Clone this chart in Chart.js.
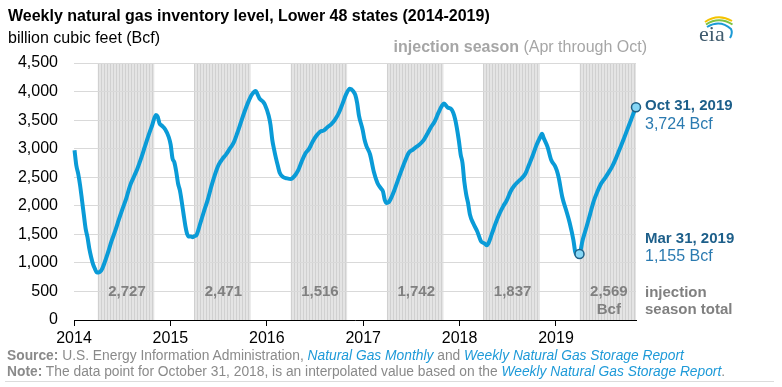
<!DOCTYPE html>
<html>
<head>
<meta charset="utf-8">
<script src="https://cdn.jsdelivr.net/npm/chart.js@4.4.0/dist/chart.umd.min.js"></script>
<style>
  body { margin: 0; background: #fff; font-family: 'Liberation Sans', Arial, sans-serif; }
  #wrap { position: relative; width: 782px; height: 387px; overflow: hidden; }
  #chart { position: absolute; left: 0; top: 0; }
  .t { position: absolute; white-space: nowrap; }
  .src { font-size: 13.8px; color: #8a8a8a; left: 7px; }
  .lk { color: #1e9ad8; }
</style>
</head>
<body>
<div id="wrap">
  <canvas id="chart" width="782" height="387"></canvas>
  <div class="t" style="left:8px; top:7px; font-size:16px; font-weight:bold; color:#000;">Weekly natural gas inventory level, Lower 48 states (2014-2019)</div>
  <div class="t" style="left:8px; top:29px; font-size:16px; color:#000;">billion cubic feet (Bcf)</div>
  <div class="t" style="right:135px; top:38px; font-size:16px; color:#a6a6a6;"><b>injection season</b> (Apr through Oct)</div>
  <svg class="t" style="left:696px; top:12px;" width="44" height="34">
    <path d="M9 10 Q22 1 36 9" stroke="#f4c300" stroke-width="2" fill="none"/>
    <path d="M10 12.5 Q23 4 36.5 12.5" stroke="#7cc243" stroke-width="2" fill="none"/>
    <path d="M11 15 Q24 7 35 17 Q37 21 34 26" stroke="#1b9ad6" stroke-width="2" fill="none"/>
    <text x="3" y="29" font-family="Liberation Serif, serif" font-size="22" fill="#3f5b6e">eia</text>
  </svg>
  <div class="t src" style="top:348px;"><b>Source:</b> U.S. Energy Information Administration, <i class="lk">Natural Gas Monthly</i> and <i class="lk">Weekly Natural Gas Storage Report</i></div>
  <div class="t src" style="top:364px;"><b>Note:</b> The data point for October 31, 2018, is an interpolated value based on the <i class="lk">Weekly Natural Gas Storage Report</i>.</div>
  <div style="position:absolute; left:5px; top:381px; width:769px; height:1px; background:#dcdcdc;"></div>
</div>

<script>
// weekly working gas in storage (Bcf)
const storageDates = [
  '2014-01-03','2014-01-10','2014-01-17','2014-01-24','2014-01-31','2014-02-07','2014-02-14','2014-02-21','2014-02-28','2014-03-07','2014-03-14','2014-03-21','2014-03-28','2014-04-04','2014-04-11','2014-04-18','2014-04-25','2014-05-09','2014-05-23','2014-06-06','2014-06-20','2014-07-04','2014-07-18','2014-08-01','2014-08-15','2014-08-29','2014-09-12','2014-09-26','2014-10-10','2014-10-24','2014-11-07','2014-11-14','2014-11-21','2014-11-28','2014-12-12','2014-12-26',
  '2015-01-02','2015-01-09','2015-01-16','2015-01-23','2015-01-30','2015-02-06','2015-02-13','2015-02-20','2015-02-27','2015-03-06','2015-03-13','2015-03-20','2015-03-27','2015-04-03','2015-04-10','2015-04-24','2015-05-08','2015-05-22','2015-06-05','2015-06-19','2015-07-03','2015-07-17','2015-07-31','2015-08-14','2015-08-28','2015-09-11','2015-09-25','2015-10-09','2015-10-23','2015-11-06','2015-11-20','2015-11-27','2015-12-04','2015-12-18','2015-12-25',
  '2016-01-08','2016-01-15','2016-01-22','2016-01-29','2016-02-05','2016-02-12','2016-02-19','2016-03-04','2016-03-18','2016-04-01','2016-04-15','2016-04-29','2016-05-13','2016-05-27','2016-06-10','2016-06-24','2016-07-08','2016-07-22','2016-08-05','2016-08-19','2016-09-02','2016-09-16','2016-09-30','2016-10-14','2016-10-28','2016-11-11','2016-11-25','2016-12-02','2016-12-09','2016-12-16','2016-12-30',
  '2017-01-06','2017-01-13','2017-01-27','2017-02-10','2017-02-24','2017-03-10','2017-03-17','2017-03-24','2017-03-31','2017-04-07','2017-04-14','2017-04-28','2017-05-12','2017-05-26','2017-06-09','2017-06-23','2017-07-07','2017-07-21','2017-08-04','2017-08-18','2017-09-01','2017-09-15','2017-09-29','2017-10-13','2017-10-27','2017-11-03','2017-11-17','2017-12-01','2017-12-15','2017-12-29',
  '2018-01-05','2018-01-12','2018-01-19','2018-01-26','2018-02-02','2018-02-09','2018-02-23','2018-03-09','2018-03-23','2018-04-06','2018-04-13','2018-04-20','2018-05-04','2018-05-18','2018-06-01','2018-06-15','2018-06-29','2018-07-13','2018-07-27','2018-08-10','2018-08-24','2018-09-07','2018-09-21','2018-10-05','2018-10-19','2018-11-02','2018-11-09','2018-11-16','2018-11-30','2018-12-14','2018-12-28',
  '2019-01-04','2019-01-11','2019-01-25','2019-02-08','2019-02-22','2019-03-08','2019-03-15','2019-03-22','2019-03-31','2019-04-12','2019-04-26','2019-05-10','2019-05-24','2019-06-07','2019-06-21','2019-07-05','2019-07-19','2019-08-02','2019-08-16','2019-08-30','2019-09-13','2019-09-27','2019-10-11','2019-10-25','2019-10-31'
];
const storageBcf = [
  2973,2700,2560,2360,2110,1850,1600,1450,1250,1100,980,900,837,830,850,900,980,1170,1380,1560,1760,1950,2130,2350,2500,2650,2830,3030,3230,3410,3590,3560,3440,3410,3340,3200,
  3070,2830,2760,2600,2390,2270,2070,1850,1640,1500,1460,1460,1450,1470,1490,1690,1900,2100,2340,2550,2720,2820,2900,3000,3100,3270,3460,3650,3820,3950,4010,3950,3880,3820,3770,
  3580,3420,3150,2980,2830,2700,2580,2500,2480,2470,2520,2620,2780,2920,3000,3130,3230,3300,3320,3380,3430,3510,3620,3780,3950,4047,4000,3940,3800,3580,3330,
  3160,3050,2900,2600,2400,2300,2250,2100,2050,2060,2110,2260,2440,2620,2790,2930,2980,3030,3080,3150,3260,3380,3480,3630,3760,3790,3720,3690,3520,3150,
  2900,2750,2420,2200,2050,1850,1680,1550,1380,1340,1310,1340,1520,1700,1860,1990,2100,2250,2350,2420,2480,2560,2720,2880,3060,3200,3260,3180,3030,2800,2700,
  2620,2500,2150,1930,1700,1400,1190,1140,1155,1400,1620,1850,2080,2250,2390,2480,2580,2690,2830,2990,3150,3320,3490,3660,3724
];

const yearTicks = [2014, 2015, 2016, 2017, 2018, 2019];
const seasonYears = [2014, 2015, 2016, 2017, 2018, 2019];
const seasonTotals = [['2,727'], ['2,471'], ['1,516'], ['1,742'], ['1,837'], ['2,569', 'Bcf']];

const highlightDates = ['2019-10-31', '2019-03-31'];
const highlightBcf = [3724, 1155];
const highlightLabels = [['Oct 31, 2019', '3,724 Bcf'], ['Mar 31, 2019', '1,155 Bcf']];

// date string -> fractional year
function toYear(s) {
  const d = Date.parse(s + 'T00:00:00Z');
  const y = Number(s.slice(0, 4));
  const a = Date.UTC(y, 0, 1), b = Date.UTC(y + 1, 0, 1);
  return y + (d - a) / (b - a);
}

const FONT = "'Liberation Sans', Arial, sans-serif";

// shaded injection seasons + text inside the plot
const seasonPlugin = {
  id: 'seasons',
  beforeDraw(chart) {
    const { ctx, chartArea: a, scales: { x } } = chart;
    ctx.save();
    seasonYears.forEach(yr => {
      const x0 = x.getPixelForValue(toYear(yr + '-04-01'));
      const x1 = Math.min(x.getPixelForValue(toYear(yr + '-11-01')), a.right);
      ctx.fillStyle = '#e4e4e4';
      ctx.fillRect(x0, a.top, x1 - x0, a.bottom - a.top);
      ctx.strokeStyle = '#d0d0d0';
      ctx.lineWidth = 1;
      for (let px = Math.round(x0) + 0.5; px < x1; px += 3) {
        ctx.beginPath();
        ctx.moveTo(px, a.top);
        ctx.lineTo(px, a.bottom);
        ctx.stroke();
      }
    });
    ctx.restore();
  },
  afterDraw(chart) {
    const { ctx, chartArea: a, scales: { x, y } } = chart;
    ctx.save();
    ctx.textBaseline = 'middle';

    // season totals
    ctx.font = 'bold 15px ' + FONT;
    ctx.fillStyle = '#808080';
    ctx.textAlign = 'center';
    seasonYears.forEach((yr, i) => {
      const x0 = x.getPixelForValue(toYear(yr + '-04-01'));
      const x1 = Math.min(x.getPixelForValue(toYear(yr + '-11-01')), a.right);
      seasonTotals[i].forEach((txt, j) => {
        ctx.fillText(txt, (x0 + x1) / 2 + 1, a.bottom - 28 + j * 18);
      });
    });

    // right-hand notes
    ctx.textAlign = 'left';
    const lx = a.right + 9;
    ctx.font = 'bold 15px ' + FONT;
    ctx.fillStyle = '#808080';
    ctx.fillText('injection', lx, a.bottom - 27);
    ctx.fillText('season total', lx, a.bottom - 10);

    const noteY = [y.getPixelForValue(highlightBcf[0]) - 1, a.top + 176];
    highlightLabels.forEach((lines, i) => {
      ctx.font = 'bold 15px ' + FONT;
      ctx.fillStyle = '#1d5f8a';
      ctx.fillText(lines[0], lx, noteY[i]);
      ctx.font = '16px ' + FONT;
      ctx.fillStyle = '#2a7ab0';
      ctx.fillText(lines[1], lx, noteY[i] + 18);
    });
    ctx.restore();
  }
};

const ctx = document.getElementById('chart').getContext('2d');
new Chart(ctx, {
  type: 'line',
  data: {
    datasets: [
      {
        label: 'highlight',
        data: highlightDates.map((d, i) => ({ x: toYear(d), y: highlightBcf[i] })),
        showLine: false,
        pointRadius: 4.5,
        pointBackgroundColor: '#86d6f5',
        pointBorderColor: '#1e5f85',
        pointBorderWidth: 1.5,
        clip: false,
        order: 0
      },
      {
        label: 'Working gas in storage',
        data: storageDates.map((d, i) => ({ x: toYear(d), y: storageBcf[i] })),
        borderColor: '#0a9bd7',
        borderWidth: 4,
        pointRadius: 0,
        cubicInterpolationMode: 'monotone',
        fill: false,
        clip: 4,
        order: 1
      }
    ]
  },
  options: {
    responsive: false,
    animation: false,
    layout: { padding: { top: 63, right: 146, left: 0, bottom: 0 } },
    plugins: { legend: { display: false }, tooltip: { enabled: false } },
    scales: {
      x: {
        type: 'linear',
        min: toYear('2014-01-01'),
        max: toYear('2019-10-31'),
        afterBuildTicks: scale => { scale.ticks = yearTicks.map(v => ({ value: v })); },
        afterFit: scale => { scale.height = 67; },
        ticks: {
          callback: v => String(v),
          color: '#000',
          font: { family: FONT, size: 16 },
          padding: 3,
          maxRotation: 0,
          autoSkip: false
        },
        grid: { drawOnChartArea: false, drawTicks: true, tickLength: 6, color: '#000' },
        border: { color: '#000', width: 1 }
      },
      y: {
        min: 0,
        max: 4500,
        afterFit: scale => { scale.width = 74; },
        ticks: {
          stepSize: 500,
          color: '#000',
          font: { family: FONT, size: 16 },
          padding: 16
        },
        grid: { color: '#d9d9d9', drawTicks: false },
        border: { display: false }
      }
    }
  },
  plugins: [seasonPlugin]
});
</script>
</body>
</html>
